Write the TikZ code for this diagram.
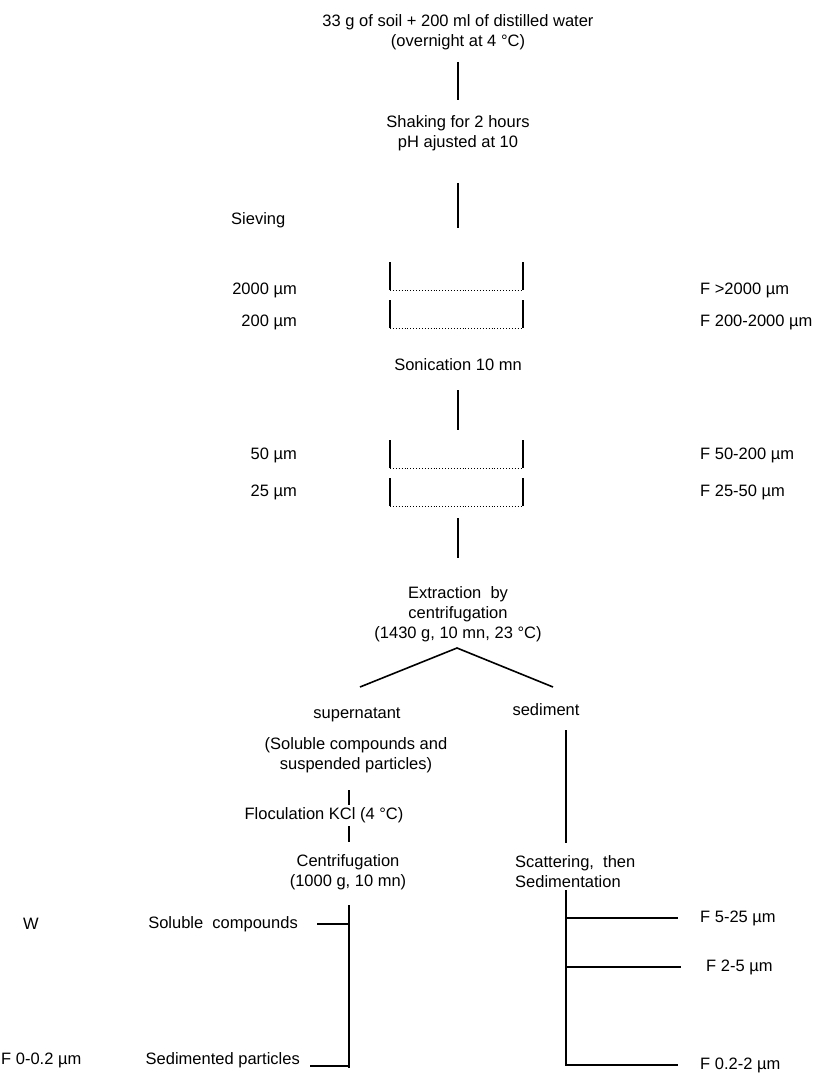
\documentclass[tikz,border=0pt]{standalone}
\usepackage{fontspec}
\setmainfont{Liberation Sans}
\begin{document}
\begin{tikzpicture}[x=1pt,y=-1pt,
  txt/.style={inner sep=0pt,font=\fontsize{16.5}{20}\selectfont,align=center},
  ln/.style={line width=1.6pt},
  thinln/.style={line width=1.2pt},
  sievebottom/.style={line width=0.9pt,dotted}]
\useasboundingbox (0,0) rectangle (825,1078);
% top
\node[txt] (t1) at (458,32) {33 g of soil + 200 ml of distilled water\\(overnight at 4 °C)};
\coordinate (a1) at (458,62); \coordinate (a2) at (458,100);
\draw[ln] (a1) -- (a2);
\node[txt] (t2) at (458,133) {Shaking for 2 hours\\pH ajusted at 10};
\coordinate (b1) at (458,183); \coordinate (b2) at (458,228);
\draw[ln] (b1) -- (b2);
\node[txt,anchor=west] (siev) at (231,220) {Sieving};
% sieves
\foreach \n/\y in {s1/262,s2/300,s3/440,s4/478}{
  \coordinate (\n tl) at (390,\y);
  \coordinate (\n bl) at (390,\y+28);
  \coordinate (\n tr) at (523,\y);
  \coordinate (\n br) at (523,\y+28);
  \draw[ln] (\n tl) -- (\n bl);
  \draw[ln] (\n tr) -- (\n br);
  \draw[sievebottom] (\n bl) -- (\n br);
}
\node[txt,anchor=east] (m2000) at (297,290) {2000 µm};
\node[txt,anchor=east] (m200) at (297,322) {200 µm};
\node[txt,anchor=west] (f1) at (700,290) {F >2000 µm};
\node[txt,anchor=west] (f2) at (700,322) {F 200-2000 µm};
\node[txt] (son) at (458,365) {Sonication 10 mn};
\coordinate (c1) at (458,390); \coordinate (c2) at (458,430);
\draw[ln] (c1) -- (c2);
\node[txt,anchor=east] (m50) at (297,455) {50 µm};
\node[txt,anchor=east] (m25) at (297,492) {25 µm};
\node[txt,anchor=west] (f3) at (700,455) {F 50-200 µm};
\node[txt,anchor=west] (f4) at (700,492) {F 25-50 µm};
\coordinate (d1) at (458,518); \coordinate (d2) at (458,558);
\draw[ln] (d1) -- (d2);
\node[txt] (ext) at (458,614) {Extraction\ \ by\\centrifugation\\(1430 g, 10 mn, 23 °C)};
\coordinate (apex) at (457,648);
\coordinate (lend) at (360,687);
\coordinate (rend) at (553,687);
\draw[ln] (lend) -- (apex) -- (rend);
% left branch
\node[txt] (sup) at (357,715) {supernatant};
\node[txt] (sol) at (356,755) {(Soluble compounds and\\suspended particles)};
\coordinate (e1) at (349,790); \coordinate (e2) at (349,805);
\draw[ln] (e1) -- (e2);
\node[txt] (flo) at (324,815) {Floculation KCl (4 °C)};
\coordinate (g1) at (349,826); \coordinate (g2) at (349,842);
\draw[ln] (g1) -- (g2);
\node[txt] (cen) at (348,872) {Centrifugation\\(1000 g, 10 mn)};
\coordinate (h1) at (349,905); \coordinate (h2) at (349,1068);
\draw[ln] (h1) -- (h2);
\coordinate (sc) at (349,924); \coordinate (scl) at (317,924);
\draw[thinln] (scl) -- (sc);
\coordinate (sp) at (349,1066); \coordinate (spl) at (310,1066);
\draw[thinln] (spl) -- (sp);
\node[txt,anchor=east] (solc) at (298,924) {Soluble\ \ compounds};
\node[txt,anchor=west] (w) at (23,924) {W};
\node[txt,anchor=east] (sedp) at (300,1060) {Sedimented particles};
\node[txt,anchor=west] (f0) at (1,1060) {F 0-0.2 µm};
% right branch
\node[txt] (sed) at (546,710) {sediment};
\coordinate (k1) at (566,730); \coordinate (k2) at (566,843);
\draw[ln] (k1) -- (k2);
\node[txt,anchor=west,align=left] (scat) at (515,872) {Scattering,\ \ then\\Sedimentation};
\coordinate (r1) at (566,890); \coordinate (r2) at (566,1066);
\draw[ln] (r1) -- (r2);
\coordinate (q1) at (566,918); \coordinate (q1e) at (678,918);
\coordinate (q2) at (566,967); \coordinate (q2e) at (681,967);
\coordinate (q3) at (566,1065); \coordinate (q3e) at (678,1065);
\draw[thinln] (q1) -- (q1e);
\draw[thinln] (q2) -- (q2e);
\draw[thinln] (q3) -- (q3e);
\node[txt,anchor=west] (f5) at (700,918) {F 5-25 µm};
\node[txt,anchor=west] (f6) at (706,967) {F 2-5 µm};
\node[txt,anchor=west] (f7) at (700,1065) {F 0.2-2 µm};
\end{tikzpicture}
\end{document}
